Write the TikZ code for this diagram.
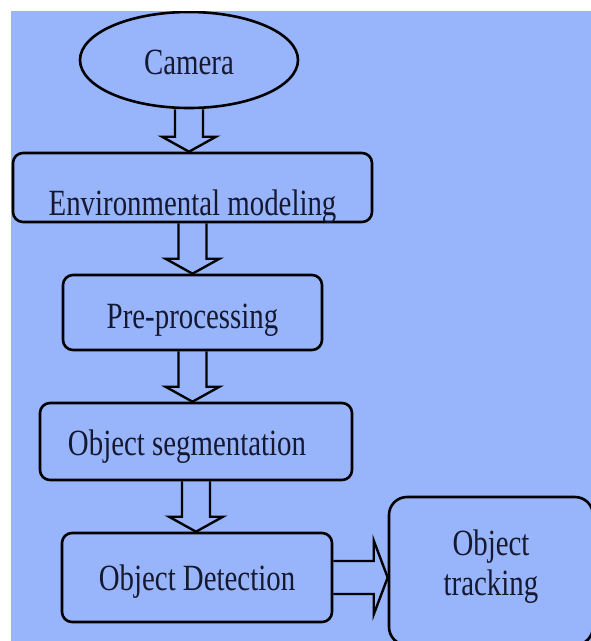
\documentclass[tikz,border=0pt]{standalone}
\usepackage{fontspec}
\setmainfont{Liberation Serif}
\usetikzlibrary{shapes.geometric}
\usetikzlibrary{calc}

\definecolor{bgblue}{RGB}{152,181,251}
\definecolor{inkblue}{RGB}{22,24,48}

% narrow serif text, lowered onto its baseline
\newcommand{\boxtext}[2]{\raisebox{-#1pt}[0pt][0pt]{\scalebox{0.78}[1]{#2}}}

% hollow block arrow from the bottom of one stage to the top of the next
\newcommand{\flowdown}[2]{%
  \draw[hollow] ($(#1.south)+(-14,0)$) -- ($(#1.south |- #2.north)+(-14,-15)$)
    -- ($(#1.south |- #2.north)+(-27,-15)$) -- (#1.south |- #2.north)
    -- ($(#1.south |- #2.north)+(27,-15)$) -- ($(#1.south |- #2.north)+(14,-15)$)
    -- ($(#1.south)+(14,0)$);}

\tikzset{
  stage/.style={draw, line width=2.6pt, rounded corners=10pt, inner sep=0pt,
    text=inkblue, font=\fontsize{37}{40}\selectfont},
  source/.style={stage, ellipse, sharp corners},
  hollow/.style={draw, line width=2.4pt, line join=miter},
}

\begin{document}
\begin{tikzpicture}[x=1pt, y=-1pt]

% Set the size of the figure
\useasboundingbox (0,0) rectangle (591,641);
\fill[white] (0,0) rectangle (591,641);
\fill[bgblue] (11,11) rectangle (591,641);

\begin{scope}
\clip (11,11) rectangle (591,641);

% the stages
\node[source, minimum width=218, minimum height=96] (camera) at (189,60) {\boxtext{14}{Camera}};
\node[stage, minimum width=359, minimum height=69] (envmodel) at (192.5,187.5) {\boxtext{27.5}{Environmental modeling}};
\node[stage, minimum width=259, minimum height=75] (preproc) at (192.5,312.5) {\boxtext{15.5}{Pre-processing}};
\node[stage, minimum width=312, minimum height=77] (segment) at (196,441.5) {\hspace*{-18pt}\boxtext{13.5}{Object segmentation}};
\node[stage, minimum width=270, minimum height=89] (detect) at (197,577.5) {\boxtext{12.5}{Object Detection}};
\node[stage, rounded corners=18pt, minimum width=204, minimum height=148] (track) at (491,571)
  {\boxtext{24}{\begin{tabular}[b]{@{}c@{}}Object\\tracking\end{tabular}}};

% the arrows
\flowdown{camera}{envmodel}
\flowdown{envmodel}{preproc}
\flowdown{preproc}{segment}
\flowdown{segment}{detect}
\draw[hollow] ($(detect.east)+(0,-16.5)$) -- ($(detect.east -| track.west)+(-14,-16.5)$)
  -- ($(detect.east -| track.west)+(-14,-37)$) -- (detect.east -| track.west)
  -- ($(detect.east -| track.west)+(-14,37)$) -- ($(detect.east -| track.west)+(-14,16.5)$)
  -- ($(detect.east)+(0,16.5)$);
\end{scope}
\end{tikzpicture}
\end{document}
